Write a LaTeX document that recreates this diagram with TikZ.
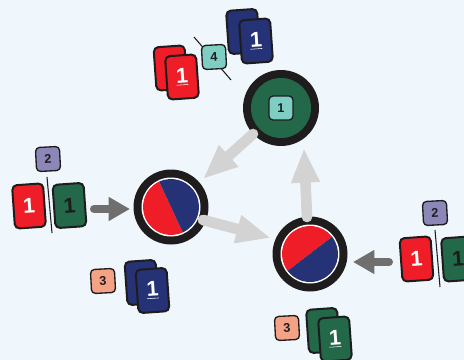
\documentclass[tikz,border=0pt]{standalone}
\usepackage{fontspec}
\setmainfont{Liberation Sans}
\usetikzlibrary{arrows.meta}
\definecolor{bg}{HTML}{F0F7FC}
\definecolor{ring}{HTML}{1E1C1D}
\definecolor{cred}{HTML}{EE1D27}
\definecolor{cblue}{HTML}{253276}
\definecolor{cgreen}{HTML}{24684A}
\definecolor{bteal}{HTML}{7ECEC4}
\definecolor{bpurple}{HTML}{8B87B8}
\definecolor{bsalmon}{HTML}{F4A285}
\definecolor{alight}{HTML}{D3D3D3}
\definecolor{adark}{HTML}{6F6F6F}
\definecolor{ink}{HTML}{1E1C1D}
\begin{document}
\begin{tikzpicture}[x=0.75pt,y=-0.75pt,
  card/.style={draw=ink, line width=1.5pt, rounded corners=3.5pt,
    minimum width=23.25pt, minimum height=32.5pt, inner sep=0pt, rotate=4,
    font=\bfseries\fontsize{16}{16}\selectfont},
  badge/.style={draw=ink, line width=1pt, rounded corners=3pt,
    minimum size=18pt, inner sep=0pt, text=ink,
    font=\bfseries\fontsize{9.5}{9.5}\selectfont},
  bigarrow/.style={line width=8pt, draw=alight, line cap=round,
    -{Triangle[length=26pt,width=20pt]}},
  smallarrow/.style={line width=6pt, draw=adark, line cap=round,
    -{Triangle[length=16pt,width=17pt]}},
  sepline/.style={draw=ink, line width=0.8pt}
]
\fill[bg] (0,0) rectangle (464,360);
\useasboundingbox (0,0) rectangle (464,360);

% circles
\coordinate (G) at (281,108);
\coordinate (L) at (171,207);
\coordinate (R) at (310,254);
\fill[ring] (G) circle[radius=38];
\fill[cgreen] (G) circle[radius=30];
\node[badge, fill=bteal] (g1) at (G) {1};

\fill[ring] (L) circle[radius=37.5];
\fill[white] (L) circle[radius=29.5];
\fill[cred] (L) ++(65:28) arc[start angle=65,end angle=245,radius=28] -- cycle;
\fill[cblue] (L) ++(245:28) arc[start angle=245,end angle=425,radius=28] -- cycle;

\fill[ring] (R) circle[radius=37.5];
\fill[white] (R) circle[radius=29.5];
\fill[cred] (R) ++(143:28) arc[start angle=143,end angle=322,radius=28] -- cycle;
\fill[cblue] (R) ++(322:28) arc[start angle=322,end angle=503,radius=28] -- cycle;

% light arrows
\coordinate (a1s) at (253,134); \coordinate (a1e) at (203,179);
\coordinate (a2s) at (203,220); \coordinate (a2e) at (271,238);
\coordinate (a3s) at (307,217); \coordinate (a3e) at (304,148);
\draw[bigarrow] (a1s) -- (a1e);
\draw[bigarrow] (a2s) -- (a2e);
\draw[bigarrow] (a3s) -- (a3e);

% dark arrows
\coordinate (d1s) at (94,209); \coordinate (d1e) at (130,209);
\coordinate (d2s) at (389,262); \coordinate (d2e) at (353,262);
\draw[smallarrow] (d1s) -- (d1e);
\draw[smallarrow] (d2s) -- (d2e);

% top group
\coordinate (t1) at (194,37); \coordinate (t2) at (231,80);
\draw[sepline] (t1) -- (t2);
\node[badge, fill=bteal, rotate=3] (b4) at (214,57) {4};
\node[card, fill=cred] (tlr1) at (170.5,68) {};
\node[card, fill=cred, text=white] (tlr2) at (182,77) {\underline{1}};
\node[card, fill=cblue] (trb1) at (243,31.5) {};
\node[card, fill=cblue, text=white] (trb2) at (256,41) {\underline{1}};

% left group
\coordinate (l1) at (47,177); \coordinate (l2) at (52,233);
\draw[sepline] (l1) -- (l2);
\node[badge, fill=bpurple, rotate=3] (b2l) at (48,159) {2};
\node[card, fill=cred, text=white] (lr) at (29,206) {1};
\node[card, fill=cgreen, text=ink] (lg) at (69.5,205.5) {1};

% right group
\coordinate (r1) at (435,230); \coordinate (r2) at (440,287);
\draw[sepline] (r1) -- (r2);
\node[badge, fill=bpurple, rotate=3] (b2r) at (435,213) {2};
\node[card, fill=cred, text=white] (rr) at (416.5,259) {1};
\node[card, fill=cgreen, text=ink] (rg) at (458,259) {1};

% bottom-left group
\node[badge, fill=bsalmon, rotate=3] (b3l) at (103,281) {3};
\node[card, fill=cblue] (blb1) at (141.5,282.5) {};
\node[card, fill=cblue, text=white] (blb2) at (152.5,290.5) {\underline{1}};

% bottom-right group
\node[badge, fill=bsalmon, rotate=3] (b3r) at (287,328) {3};
\node[card, fill=cgreen] (brg1) at (323,330.5) {};
\node[card, fill=cgreen, text=white] (brg2) at (335,339) {\underline{1}};
\end{tikzpicture}
\end{document}
